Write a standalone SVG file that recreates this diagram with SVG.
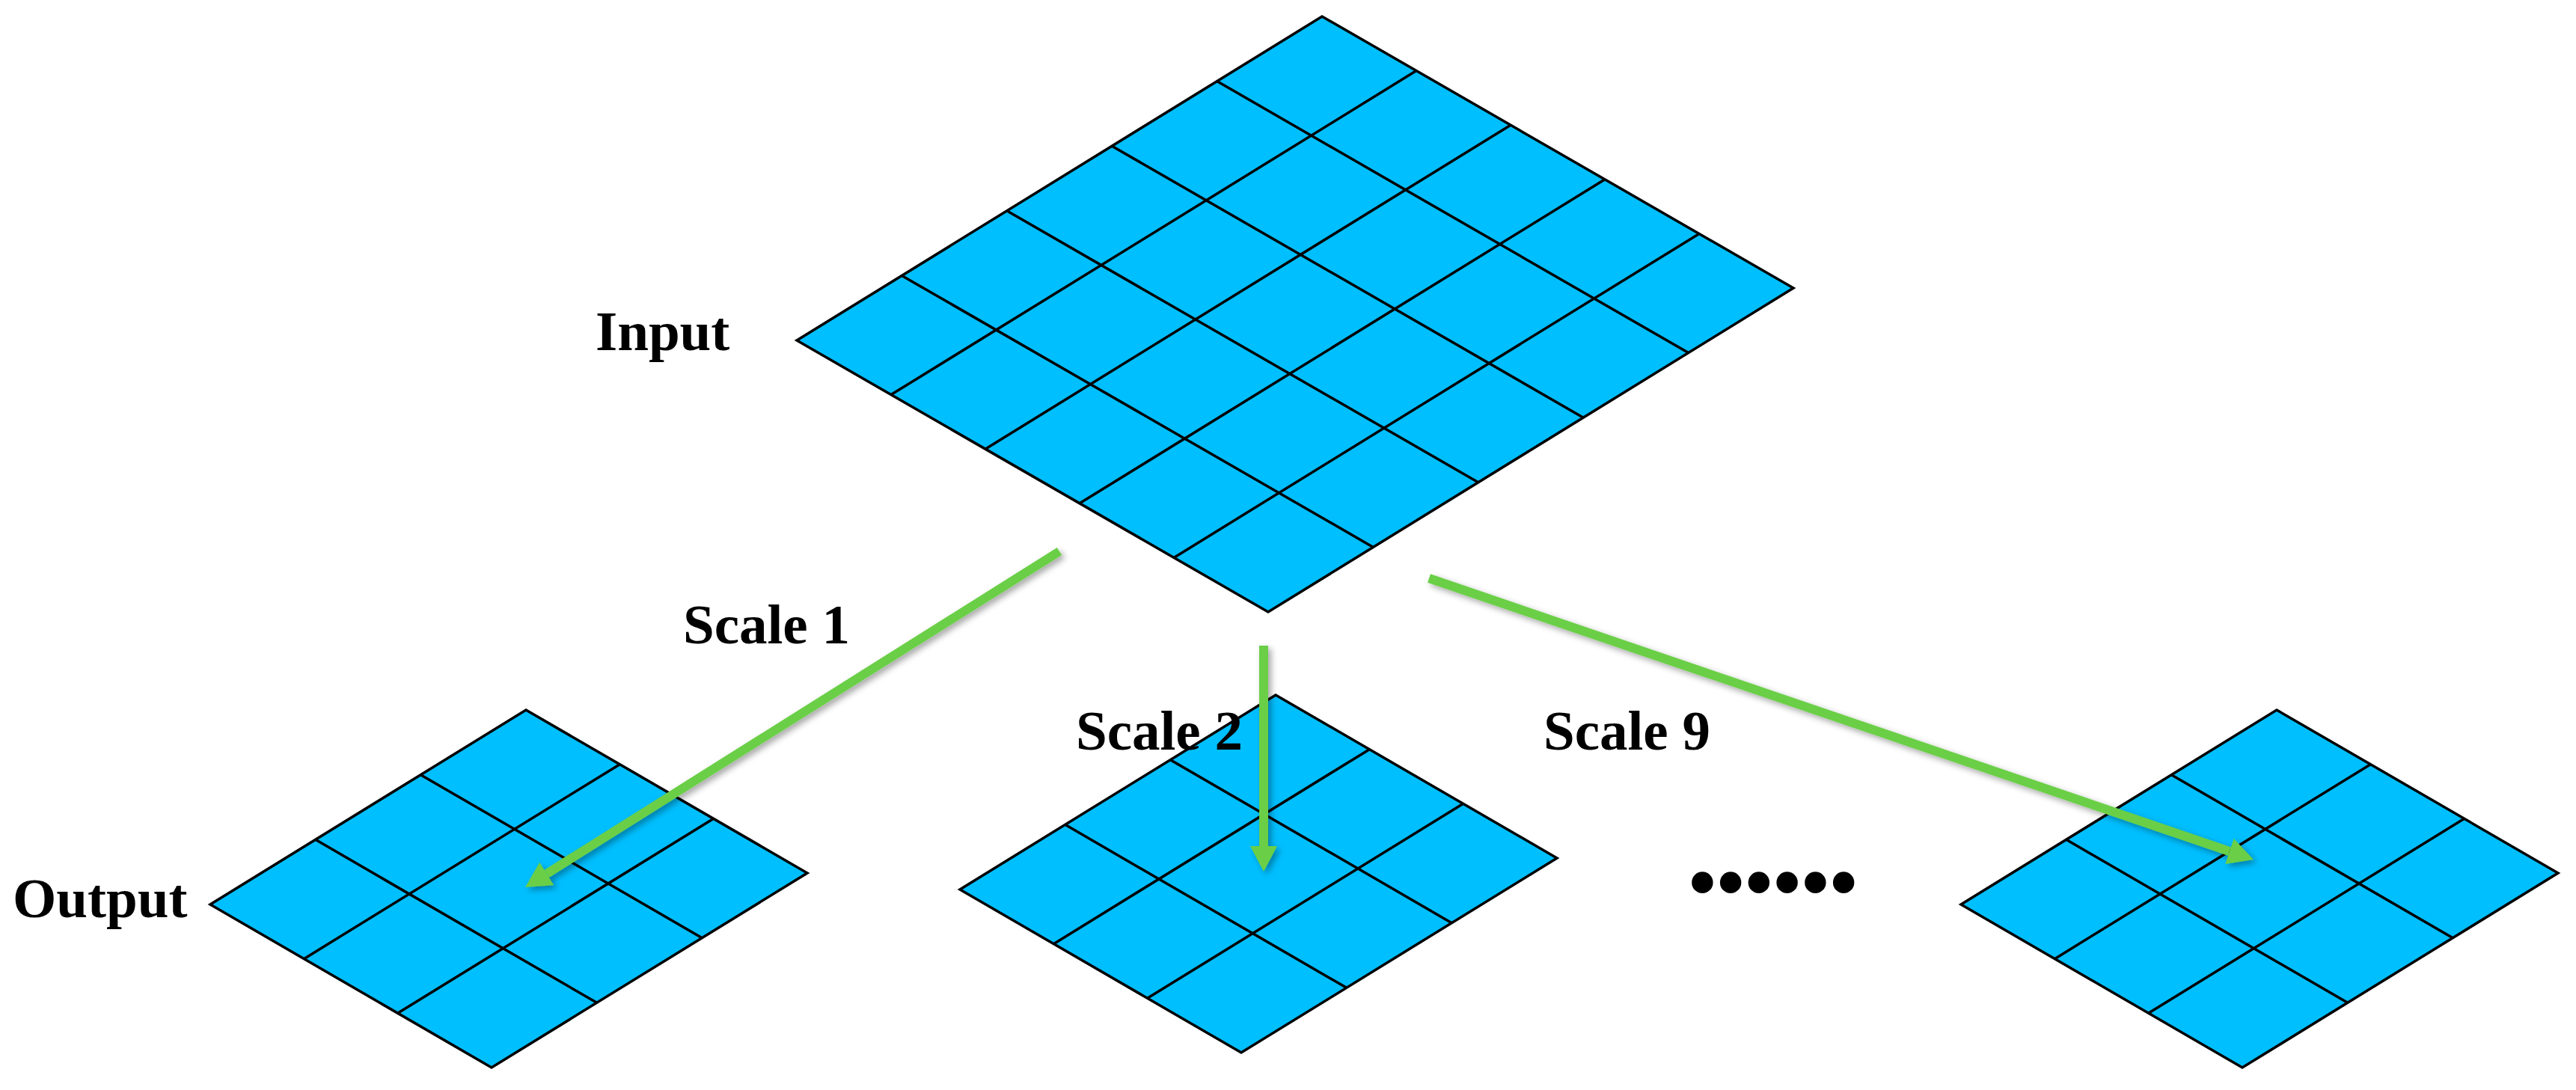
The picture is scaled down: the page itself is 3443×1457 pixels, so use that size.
<svg xmlns="http://www.w3.org/2000/svg" xmlns:xlink="http://www.w3.org/1999/xlink" width="3443" height="1457" viewBox="0 0 3443 1457">
<style>
.cell{fill:#00BFFF;stroke:#000;stroke-width:3.5;stroke-linejoin:miter}
.grid{fill:none;stroke:#000;stroke-width:3.5}
.lbl{font-family:"Liberation Serif","Times New Roman",serif;font-weight:bold;font-size:75px;fill:#000}
.arrow{fill:none;stroke:#6BCF47;stroke-width:12;stroke-linecap:butt;marker-end:url(#head)}
</style>
<defs>
<marker id="head" markerUnits="userSpaceOnUse" viewBox="0 0 34 36" refX="0" refY="18" markerWidth="34" markerHeight="36" orient="auto">
<path d="M0,0 L34,18 L0,36 Z" fill="#6BCF47"/>
</marker>
<filter id="shadow" filterUnits="userSpaceOnUse" x="0" y="0" width="3443" height="1457">
<feDropShadow dx="4" dy="4" stdDeviation="4" flood-color="#000" flood-opacity="0.35"/>
</filter>
<g id="smallgrid">
<path class="cell" d="M0,0 L376,218 L-46,478 L-422,260 Z"/>
<path class="grid" d="M-140.67,86.67 L235.33,304.67 M-281.33,173.33 L94.67,391.33 M125.33,72.67 L-296.67,332.67 M250.67,145.33 L-171.33,405.33"/>
</g>
</defs>
<rect width="3443" height="1457" fill="#fff"/>
<g id="input">
<path class="cell" d="M1767,22 L2397,385 L1695,818 L1065,455 Z"/>
<path class="grid" d="M1626.6,108.6 L2256.6,471.6 M1486.2,195.2 L2116.2,558.2 M1345.8,281.8 L1975.8,644.8 M1205.4,368.4 L1835.4,731.4 M1893,94.6 L1191,527.6 M2019,167.2 L1317,600.2 M2145,239.8 L1443,672.8 M2271,312.4 L1569,745.4"/>
<text class="lbl" x="796" y="468">Input</text>
</g>
<g id="output1">
<use xlink:href="#smallgrid" href="#smallgrid" transform="translate(703,949)"/>
<text class="lbl" x="17" y="1226">Output</text>
</g>
<g id="output2">
<use xlink:href="#smallgrid" href="#smallgrid" transform="translate(1705,929)"/>
</g>
<g id="output9">
<use xlink:href="#smallgrid" href="#smallgrid" transform="translate(3043,949)"/>
</g>
<g id="ellipsis">
<text class="lbl" x="2257" y="1215" style="font-size:105px;letter-spacing:1px">••••••</text>
</g>
<g id="connectors" filter="url(#shadow)">
<path class="arrow" d="M1416,737 L730.8,1167.9"/>
<path class="arrow" d="M1689,863 L1689,1131"/>
<path class="arrow" d="M1910,773 L2979.8,1138"/>
</g>
<g id="labels">
<text class="lbl" x="913" y="860">Scale 1</text>
<text class="lbl" x="1438" y="1002">Scale 2</text>
<text class="lbl" x="2063" y="1002">Scale 9</text>
</g>
</svg>
